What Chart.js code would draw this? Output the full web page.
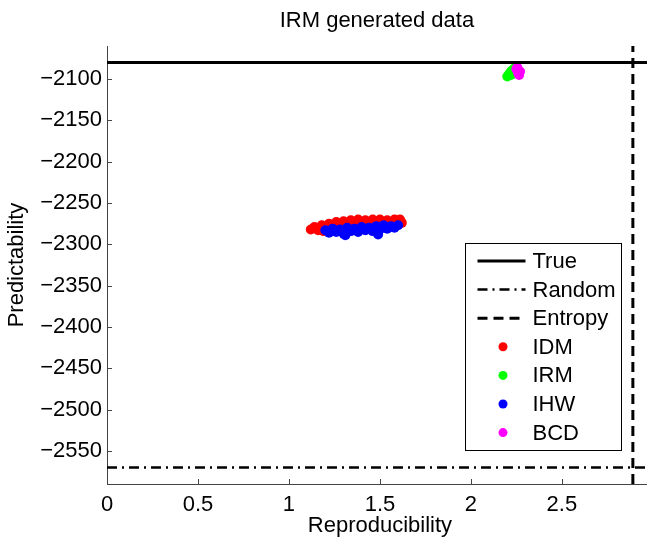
<!DOCTYPE html>
<html>
<head>
<meta charset="utf-8">
<script src="https://cdn.jsdelivr.net/npm/chart.js@4"></script>
<style>
  html, body { margin: 0; padding: 0; background: #fff; overflow: hidden; }
  #wrap { width: 667px; height: 539px; }
</style>
</head>
<body>
<div id="wrap"><canvas id="chart"></canvas></div>
<script>
// Axis ticks
const xTicks = [0, 0.5, 1, 1.5, 2, 2.5, 3];
const yTicks = [-2550, -2500, -2450, -2400, -2350, -2300, -2250, -2200, -2150, -2100];
const xRange = [0, 3];
const yRange = [-2590, -2060];

// Reference lines
const trueValue = -2080;
const randomValue = -2570;
const entropyValue = 2.89;

// Scatter series [reproducibility, predictability]
const idmPoints = [
  [1.12, -2282], [1.14, -2279], [1.16, -2283], [1.18, -2277], [1.20, -2280],
  [1.22, -2275], [1.24, -2278], [1.26, -2273], [1.28, -2276], [1.30, -2272],
  [1.32, -2275], [1.34, -2271], [1.36, -2274], [1.38, -2270], [1.40, -2273],
  [1.42, -2271], [1.44, -2274], [1.46, -2270], [1.48, -2272], [1.50, -2270],
  [1.52, -2273], [1.54, -2271], [1.56, -2274], [1.58, -2270], [1.60, -2272],
  [1.62, -2274], [1.25, -2283], [1.35, -2281], [1.45, -2279], [1.55, -2277],
  [1.19, -2284], [1.29, -2280], [1.39, -2277], [1.51, -2276], [1.61, -2270]
];
const irmPoints = [
  [2.20, -2097], [2.21, -2094], [2.22, -2091], [2.23, -2089],
  [2.24, -2087], [2.25, -2086], [2.22, -2095]
];
const ihwPoints = [
  [1.20, -2283], [1.22, -2286], [1.24, -2281], [1.26, -2285], [1.28, -2282],
  [1.30, -2287], [1.32, -2280], [1.34, -2284], [1.36, -2281], [1.38, -2285],
  [1.40, -2279], [1.42, -2283], [1.44, -2280], [1.46, -2284], [1.48, -2278],
  [1.50, -2282], [1.52, -2277], [1.54, -2281], [1.56, -2278], [1.58, -2280],
  [1.60, -2277], [1.49, -2288], [1.31, -2289]
];
const bcdPoints = [
  [2.25, -2088], [2.26, -2090], [2.26, -2093], [2.265, -2095],
  [2.255, -2086], [2.27, -2091]
];

const FONT = '"Liberation Sans", Arial, Helvetica, sans-serif';
const FS = 22;

function toXY(arr) {
  return arr.map(p => ({ x: p[0], y: p[1] }));
}

function fmt(v) {
  return v < 0 ? '\u2212' + Math.abs(v) : String(v);
}

function scatterSet(label, pts, color, order) {
  return {
    label: label,
    data: toXY(pts),
    showLine: false,
    pointRadius: 5,
    pointBackgroundColor: color,
    pointBorderColor: color,
    pointBorderWidth: 0,
    order: order,
    legendType: 'point',
    color: color
  };
}

const datasets = [
  {
    label: 'True',
    data: [{ x: xRange[0], y: trueValue }, { x: xRange[1], y: trueValue }],
    showLine: true, pointRadius: 0, borderColor: '#000', borderWidth: 3,
    order: 0, legendType: 'line', dash: []
  },
  {
    label: 'Random',
    data: [{ x: xRange[0], y: randomValue }, { x: xRange[1], y: randomValue }],
    showLine: true, pointRadius: 0, borderColor: '#000', borderWidth: 2.5,
    borderDash: [10, 5, 2, 5], order: 0, legendType: 'line', dash: [10, 5, 2, 5]
  },
  {
    label: 'Entropy',
    data: [{ x: entropyValue, y: yRange[0] }, { x: entropyValue, y: yRange[1] }],
    showLine: true, pointRadius: 0, borderColor: '#000', borderWidth: 3,
    borderDash: [10, 6], order: 0, legendType: 'line', dash: [10, 6]
  },
  scatterSet('IDM', idmPoints, '#ff0000', 4),
  scatterSet('IRM', irmPoints, '#00ff00', 3),
  scatterSet('IHW', ihwPoints, '#0000ff', 2),
  scatterSet('BCD', bcdPoints, '#ff00ff', 1)
];

// title centred over the axes, inward tick marks (matlab style)
const axesDecor = {
  id: 'axesDecor',
  afterDatasetsDraw(chart) {
    const { ctx, chartArea } = chart;
    const xs = chart.scales.x, ys = chart.scales.y;
    ctx.save();
    ctx.strokeStyle = '#444';
    ctx.lineWidth = 1;
    ctx.beginPath();
    yTicks.forEach(v => {
      const py = Math.round(ys.getPixelForValue(v)) + 0.5;
      ctx.moveTo(chartArea.left, py);
      ctx.lineTo(chartArea.left + 5, py);
    });
    xTicks.forEach(v => {
      const px = Math.round(xs.getPixelForValue(v)) + 0.5;
      ctx.moveTo(px, chartArea.bottom);
      ctx.lineTo(px, chartArea.bottom - 5);
    });
    ctx.stroke();

    ctx.fillStyle = '#000';
    ctx.font = FS + 'px ' + FONT;
    ctx.textAlign = 'center';
    ctx.textBaseline = 'middle';
    ctx.fillText('IRM generated data', (chartArea.left + chartArea.right) / 2 - 3, 21);
    ctx.restore();
  }
};

// boxed legend inside the axes
const boxLegend = {
  id: 'boxLegend',
  afterDraw(chart) {
    const ctx = chart.ctx;
    const bx = 465.5, by = 243.5, bw = 156, bh = 207;
    const rowH = 28.6;
    ctx.save();
    ctx.fillStyle = '#fff';
    ctx.fillRect(bx, by, bw, bh);
    ctx.strokeStyle = '#000';
    ctx.lineWidth = 1;
    ctx.strokeRect(bx, by, bw, bh);
    ctx.font = FS + 'px ' + FONT;
    ctx.textBaseline = 'middle';
    ctx.textAlign = 'left';
    chart.data.datasets.forEach((ds, i) => {
      const y = by + 17.5 + i * rowH;
      if (ds.legendType === 'line') {
        ctx.strokeStyle = '#000';
        ctx.lineWidth = ds.borderWidth;
        ctx.setLineDash(ds.dash);
        ctx.beginPath();
        ctx.moveTo(bx + 12, y);
        ctx.lineTo(bx + 60, y);
        ctx.stroke();
        ctx.setLineDash([]);
      } else {
        ctx.fillStyle = ds.color;
        ctx.beginPath();
        ctx.arc(bx + 37.5, y, 4.5, 0, Math.PI * 2);
        ctx.fill();
      }
      ctx.fillStyle = '#000';
      ctx.fillText(ds.label, bx + 67, y + 1);
    });
    ctx.restore();
  }
};

new Chart(document.getElementById('chart'), {
  type: 'scatter',
  data: { datasets: datasets },
  options: {
    responsive: true,
    maintainAspectRatio: false,
    animation: false,
    layout: { padding: { left: 0, right: 6, top: 46, bottom: 0 } },
    plugins: {
      legend: { display: false },
      tooltip: { enabled: false }
    },
    scales: {
      x: {
        type: 'linear',
        min: xRange[0],
        max: xRange[1],
        afterBuildTicks: s => { s.ticks = xTicks.map(v => ({ value: v })); },
        afterFit: s => { s.height = 55; },
        grid: { display: false, drawTicks: false },
        border: { display: true, color: '#444', width: 1 },
        ticks: {
          color: '#000',
          padding: 8,
          maxRotation: 0,
          font: { family: FONT, size: FS },
          callback: v => fmt(v)
        },
        title: {
          display: true,
          text: 'Reproducibility',
          color: '#000',
          font: { family: FONT, size: FS },
          padding: { top: 0, bottom: 0 }
        }
      },
      y: {
        type: 'linear',
        min: yRange[0],
        max: yRange[1],
        afterBuildTicks: s => { s.ticks = yTicks.map(v => ({ value: v })); },
        afterFit: s => { s.width = 107; },
        grid: { display: false, drawTicks: false },
        border: { display: true, color: '#444', width: 1 },
        ticks: {
          color: '#000',
          padding: 5,
          font: { family: FONT, size: FS },
          callback: v => fmt(v)
        },
        title: {
          display: true,
          text: 'Predictability',
          color: '#000',
          font: { family: FONT, size: FS },
          padding: { top: 4, bottom: 0 }
        }
      }
    }
  },
  plugins: [axesDecor, boxLegend]
});
</script>
</body>
</html>
